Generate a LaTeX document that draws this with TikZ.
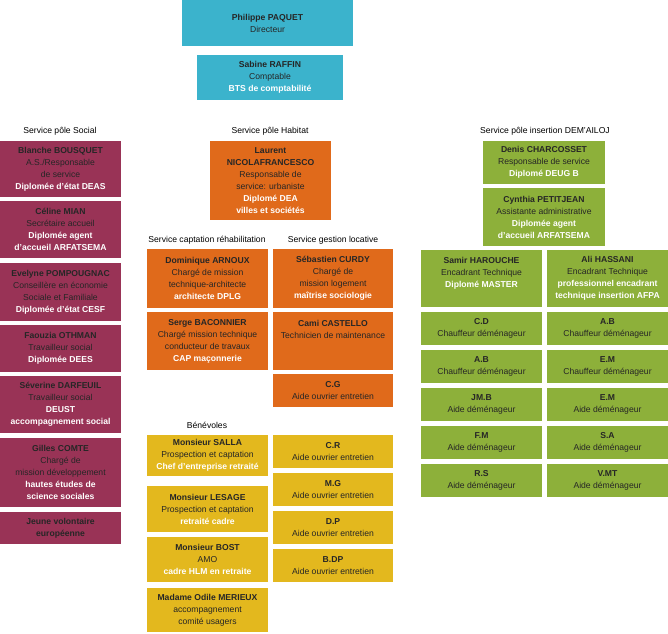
\documentclass[tikz,border=0pt]{standalone}
\usepackage{fontspec}
\setmainfont{Liberation Sans}
\definecolor{teal}{HTML}{3BB3CC}
\definecolor{social}{HTML}{993356}
\definecolor{habitat}{HTML}{E06A1B}
\definecolor{benevole}{HTML}{E3B81E}
\definecolor{insertion}{HTML}{8DB03A}
\newcommand{\nm}[1]{\textbf{#1}}
\newcommand{\dip}[1]{\textcolor{white}{\textbf{#1}}}
\begin{document}
\begin{tikzpicture}[x=1pt, y=-1pt, font=\fontsize{8.6}{12}\selectfont,
    card/.style={inner sep=0pt, align=center, text=black!85},
    direct/.style={card, fill=teal},
    soc/.style={card, fill=social, minimum width=121pt},
    hab/.style={card, fill=habitat, minimum width=121pt},
    ben/.style={card, fill=benevole, minimum width=121pt},
    ins/.style={card, fill=insertion, minimum width=121pt},
    titre/.style={font=\fontsize{8.6}{10}\selectfont}]
    \useasboundingbox (0,0) rectangle (668,633);
    % Direction
    \node[direct, minimum width=171pt, minimum height=46pt] (paquet) at (267.5,23) {\nm{Philippe PAQUET}\\Directeur};
    \node[direct, minimum width=146pt, minimum height=45pt] (raffin) at (270,77.5) {\nm{Sabine RAFFIN}\\Comptable\\\dip{BTS de comptabilité}};
    % Titles
    \node[titre] (tsocial) at (60,131) {Service pôle Social};
    \node[titre] (thabitat) at (270,131) {Service pôle Habitat};
    \node[titre] (tinsert) at (545,131) {Service pôle insertion DEM'AILOJ};
    \node[titre] (tcapt) at (207,240) {Service captation réhabilitation};
    \node[titre] (tgest) at (333,240) {Service gestion locative};
    \node[titre] (tbenev) at (207,425) {Bénévoles};
    % Pole social
    \node[soc, minimum height=56pt] (bousquet) at (60.5,169) {\nm{Blanche BOUSQUET}\\A.S./Responsable\\de service\\\dip{Diplomée d'état DEAS}};
    \node[soc, minimum height=57pt] (mian) at (60.5,229.5) {\nm{Céline MIAN}\\Secrétaire accueil\\\dip{Diplomée agent}\\\dip{d'accueil ARFATSEMA}};
    \node[soc, minimum height=58pt] (pompougnac) at (60.5,292) {\nm{Evelyne POMPOUGNAC}\\Conseillère en économie\\Sociale et Familiale\\\dip{Diplomée d'état CESF}};
    \node[soc, minimum height=47pt] (othman) at (60.5,348.5) {\nm{Faouzia OTHMAN}\\Travailleur social\\\dip{Diplomée DEES}};
    \node[soc, minimum height=57pt] (darfeuil) at (60.5,404.5) {\nm{Séverine DARFEUIL}\\Travailleur social\\\dip{DEUST}\\\dip{accompagnement social}};
    \node[soc, minimum height=69pt] (comte) at (60.5,472.5) {\nm{Gilles COMTE}\\Chargé de\\mission développement\\\dip{hautes études de}\\\dip{science sociales}};
    \node[soc, minimum height=32pt] (volontaire) at (60.5,528) {\nm{Jeune volontaire}\\\nm{européenne}};
    % Pole habitat
    \node[hab, minimum height=79pt] (nicola) at (270.5,180.5) {\nm{Laurent}\\\nm{NICOLAFRANCESCO}\\Responsable de\\service: urbaniste\\\dip{Diplomé DEA}\\\dip{villes et sociétés}};
    \node[hab, minimum height=59pt] (arnoux) at (207.5,278.5) {\nm{Dominique ARNOUX}\\Chargé de mission\\technique-architecte\\\dip{architecte DPLG}};
    \node[hab, minimum height=58pt] (baconnier) at (207.5,341) {\nm{Serge BACONNIER}\\Chargé mission technique\\conducteur de travaux\\\dip{CAP maçonnerie}};
    \node[hab, minimum width=120pt, minimum height=59pt] (curdy) at (333,278.5) {\nm{Sébastien CURDY}\\Chargé de\\mission logement\\\dip{maîtrise sociologie}};
    \node[hab, minimum width=120pt, minimum height=58pt] (castello) at (333,341) {\nm{Cami CASTELLO}\\Technicien de maintenance\\~\\~};
    \node[hab, minimum width=120pt, minimum height=33pt] (cg) at (333,390.5) {\nm{C.G}\\Aide ouvrier entretien};
    % Benevoles
    \node[ben, minimum height=41pt] (salla) at (207.5,455.5) {\nm{Monsieur SALLA}\\Prospection et captation\\\dip{Chef d'entreprise retraité}};
    \node[ben, minimum height=46pt] (lesage) at (207.5,509) {\nm{Monsieur LESAGE}\\Prospection et captation\\\dip{retraité cadre}};
    \node[ben, minimum height=45pt] (bost) at (207.5,559.5) {\nm{Monsieur BOST}\\AMO\\\dip{cadre HLM en retraite}};
    \node[ben, minimum height=44pt] (merieux) at (207.5,610) {\nm{Madame Odile MERIEUX}\\accompagnement\\comité usagers};
    \foreach \nom/\y in {C.R/451.5, M.G/489.5, D.P/527.5, B.DP/565.5}
        \node[ben, minimum width=120pt, minimum height=33pt] (ent-\nom) at (333,\y) {\nm{\nom}\\Aide ouvrier entretien};
    % Pole insertion
    \node[ins, minimum width=122pt, minimum height=43pt] (charcosset) at (544,162.5) {\nm{Denis CHARCOSSET}\\Responsable de service\\\dip{Diplomé DEUG B}};
    \node[ins, minimum width=122pt, minimum height=58pt] (petitjean) at (544,217) {\nm{Cynthia PETITJEAN}\\Assistante administrative\\\dip{Diplomée agent}\\\dip{d'accueil ARFATSEMA}};
    \node[ins, minimum height=57pt] (harouche) at (481.5,278.5) {\nm{Samir HAROUCHE}\\Encadrant Technique\\\dip{Diplomé MASTER}\\~};
    \node[ins, minimum height=57pt] (hassani) at (607.5,278.5) {\nm{Ali HASSANI}\\Encadrant Technique\\\dip{professionnel encadrant}\\\dip{technique insertion AFPA}};
    \foreach \nom/\role/\y [count=\i] in {C.D/Chauffeur déménageur/328.5, A.B/Chauffeur déménageur/366.5, JM.B/Aide déménageur/404.5, F.M/Aide déménageur/442.5, R.S/Aide déménageur/480.5}
        \node[ins, minimum height=33pt] (gauche-\i) at (481.5,\y) {\nm{\nom}\\\role};
    \foreach \nom/\role/\y [count=\i] in {A.B/Chauffeur déménageur/328.5, E.M/Chauffeur déménageur/366.5, E.M/Aide déménageur/404.5, S.A/Aide déménageur/442.5, V.MT/Aide déménageur/480.5}
        \node[ins, minimum height=33pt] (droite-\i) at (607.5,\y) {\nm{\nom}\\\role};
\end{tikzpicture}
\end{document}
